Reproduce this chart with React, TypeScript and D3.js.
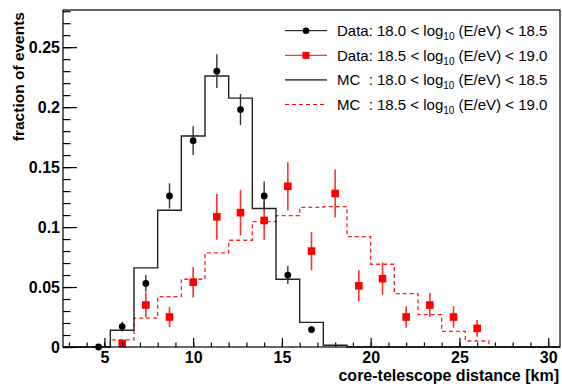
import React, { useEffect, useRef } from 'react';
import * as d3 from 'd3';

// binning of the histograms (km)
const xMin = 8 / 3;
const binWidth = 4 / 3;
const nBins = 21;

// MC histograms, one value per bin
const mcLow = [0, 0, 0.014, 0.066, 0.114, 0.176, 0.226, 0.2075, 0.1155, 0.0565, 0.0205, 0.0015, 0, 0, 0, 0, 0, 0, 0, 0, 0];
const mcHigh = [0, 0, 0.006, 0.024, 0.042, 0.0565, 0.0785, 0.089, 0.1045, 0.1095, 0.1165, 0.117, 0.092, 0.069, 0.0445, 0.027, 0.013, 0.005, 0, 0, 0];

// data points: bin index, value, error
const dataLowBin = [1, 2, 3, 4, 5, 6, 7, 8, 9, 10];
const dataLow = [0.0, 0.017, 0.053, 0.126, 0.172, 0.23, 0.198, 0.126, 0.06, 0.0145];
const dataLowErr = [0.0005, 0.004, 0.007, 0.0105, 0.012, 0.014, 0.013, 0.012, 0.0075, 0.003];

const dataHighBin = [2, 3, 4, 5, 6, 7, 8, 9, 10, 11, 12, 13, 14, 15, 16, 17];
const dataHigh = [0.003, 0.035, 0.025, 0.054, 0.1085, 0.112, 0.1055, 0.134, 0.08, 0.128, 0.051, 0.057, 0.025, 0.035, 0.025, 0.0155];
const dataHighErr = [0.003, 0.0105, 0.0085, 0.0128, 0.019, 0.019, 0.016, 0.02, 0.016, 0.02, 0.013, 0.0135, 0.009, 0.01, 0.009, 0.007];

const xTicks = [5, 10, 15, 20, 25, 30];
const xMinorTicks = d3.range(3, 31, 1);
const yTicks = [0, 0.05, 0.1, 0.15, 0.2, 0.25];
const yTickLabels = ['0', '0.05', '0.1', '0.15', '0.2', '0.25'];
const yMinorTicks = d3.range(0, 0.281, 0.01);

const legendPrefix = ['Data: 18.0 < log', 'Data: 18.5 < log', 'MC  : 18.0 < log', 'MC  : 18.5 < log'];
const legendSuffix = [' (E/eV) < 18.5', ' (E/eV) < 19.0', ' (E/eV) < 18.5', ' (E/eV) < 19.0'];

const W = 562;
const H = 387;
const font = '"Liberation Sans", Arial, Helvetica, sans-serif';

function App() {
  const svgRef = useRef<SVGSVGElement>(null);

  useEffect(() => {
    document.body.style.margin = '0';
    const svg = d3.select(svgRef.current);
    svg.selectAll('*').remove();

    const x = d3.scaleLinear().domain([xMin, xMin + nBins * binWidth]).range([63, 560]);
    const y = d3.scaleLinear().domain([0, 0.281]).range([347, 10]);
    const edge = (i: number) => xMin + i * binWidth;
    const center = (i: number) => xMin + (i + 0.5) * binWidth;

    svg.append('rect').attr('width', W).attr('height', H).attr('fill', '#fff');

    // histograms
    const step = d3.line<[number, number]>()
      .x(d => x(d[0]))
      .y(d => y(d[1]))
      .curve(d3.curveStepAfter);
    const histPts = (vals: number[]) => {
      const pts: [number, number][] = vals.map((v, i) => [edge(i), v]);
      pts.push([edge(vals.length), vals[vals.length - 1]]);
      return pts;
    };

    svg.append('path')
      .attr('d', step(histPts(mcHigh)))
      .attr('fill', 'none')
      .attr('stroke', '#ff2020')
      .attr('stroke-width', 1.3)
      .attr('stroke-dasharray', '4,3');

    svg.append('path')
      .attr('d', step(histPts(mcLow)))
      .attr('fill', 'none')
      .attr('stroke', '#222')
      .attr('stroke-width', 1.4);

    // red data
    const gHigh = svg.append('g');
    dataHighBin.forEach((b, i) => {
      const cx = x(center(b));
      gHigh.append('line')
        .attr('x1', cx).attr('x2', cx)
        .attr('y1', y(dataHigh[i] - dataHighErr[i]))
        .attr('y2', y(dataHigh[i] + dataHighErr[i]))
        .attr('stroke', '#ff3030').attr('stroke-width', 1.6);
      gHigh.append('rect')
        .attr('x', cx - 3.8).attr('y', y(dataHigh[i]) - 3.8)
        .attr('width', 7.6).attr('height', 7.6)
        .attr('fill', '#ff0000');
    });

    // black data
    const gLow = svg.append('g');
    dataLowBin.forEach((b, i) => {
      const cx = x(center(b));
      gLow.append('line')
        .attr('x1', cx).attr('x2', cx)
        .attr('y1', y(dataLow[i] - dataLowErr[i]))
        .attr('y2', y(dataLow[i] + dataLowErr[i]))
        .attr('stroke', '#333').attr('stroke-width', 1.4);
      gLow.append('circle')
        .attr('cx', cx).attr('cy', y(dataLow[i]))
        .attr('r', 3.4)
        .attr('fill', '#000');
    });

    // frame
    svg.append('rect')
      .attr('x', 63).attr('y', 10)
      .attr('width', 497).attr('height', 337)
      .attr('fill', 'none')
      .attr('stroke', '#000')
      .attr('stroke-width', 1.2);

    // X axis
    const xAxis = svg.append('g').attr('transform', 'translate(0,347)');
    xAxis.call(d3.axisBottom(x).tickValues(xMinorTicks).tickSize(-4.5).tickFormat(() => ''));
    xAxis.append('g').call(d3.axisBottom(x).tickValues(xTicks).tickSize(-9).tickPadding(5).tickFormat(d3.format('d')));

    // Y axis
    const yAxis = svg.append('g').attr('transform', 'translate(63,0)');
    yAxis.call(d3.axisLeft(y).tickValues(yMinorTicks).tickSize(-7.5).tickFormat(() => ''));
    yAxis.append('g').call(d3.axisLeft(y).tickValues(yTicks).tickSize(-14).tickPadding(3)
      .tickFormat((d, i) => yTickLabels[i]));

    svg.selectAll('.domain').remove();
    svg.selectAll('.tick line').attr('stroke', '#000').attr('stroke-width', 1.2);
    svg.selectAll('.tick text')
      .attr('fill', '#000')
      .style('font-family', font)
      .style('font-weight', 'bold')
      .style('font-size', '16px');

    // axis titles
    svg.append('text')
      .attr('x', 559).attr('y', 381)
      .attr('text-anchor', 'end')
      .style('font-family', font).style('font-weight', 'bold').style('font-size', '16px')
      .text('core-telescope distance [km]');

    svg.append('text')
      .attr('transform', 'translate(23.5,12) rotate(-90)')
      .attr('text-anchor', 'end')
      .style('font-family', font).style('font-weight', 'bold').style('font-size', '15.5px')
      .text('fraction of events');

    // legend
    const rowY = (i: number) => 30.7 + i * 24.6;
    const lg = svg.append('g');
    legendPrefix.forEach((p, i) => {
      const ly = rowY(i);
      const ln = lg.append('line')
        .attr('x1', 285).attr('x2', 327).attr('y1', ly).attr('y2', ly);
      if (i === 0) ln.attr('stroke', '#000').attr('stroke-width', 1);
      if (i === 1) ln.attr('stroke', '#ff0000').attr('stroke-width', 1);
      if (i === 2) ln.attr('stroke', '#555').attr('stroke-width', 1.8);
      if (i === 3) ln.attr('stroke', '#ff0000').attr('stroke-width', 1.2).attr('stroke-dasharray', '4,3');
      if (i === 0) lg.append('circle').attr('cx', 306).attr('cy', ly).attr('r', 3.3).attr('fill', '#000');
      if (i === 1) lg.append('rect').attr('x', 302.5).attr('y', ly - 3.5).attr('width', 7).attr('height', 7).attr('fill', '#ff0000');

      const t = lg.append('text')
        .attr('x', 337).attr('y', ly + 5.3)
        .style('font-family', font).style('font-size', '15px')
        .style('white-space', 'pre')
        .attr('fill', '#000');
      t.append('tspan').text(p);
      t.append('tspan').attr('dy', 4).style('font-size', '10px').text('10');
      t.append('tspan').attr('dy', -4).text(legendSuffix[i]);
    });
  }, []);

  return <svg ref={svgRef} width={W} height={H} style={{ display: 'block' }}></svg>;
}

export default App;
